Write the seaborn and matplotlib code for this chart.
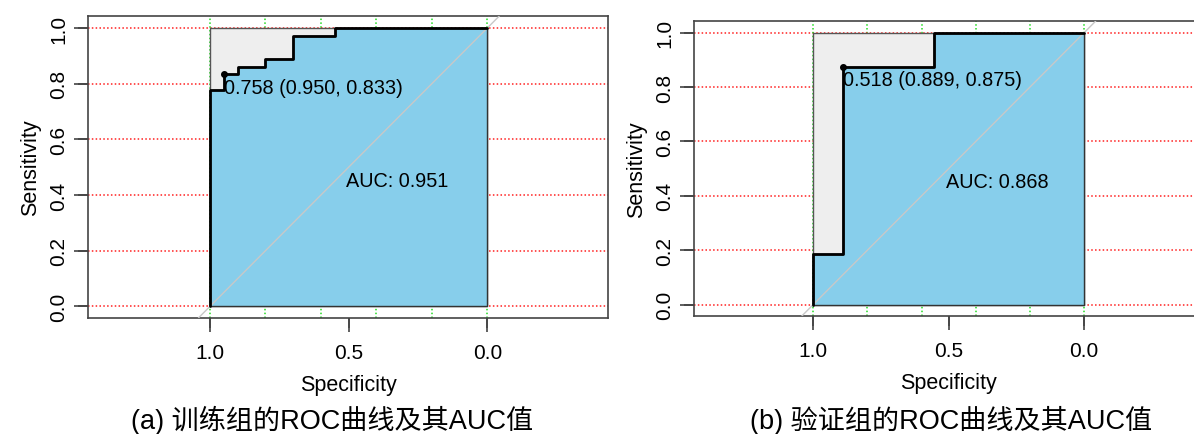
import numpy as np
import pandas as pd
import matplotlib
matplotlib.use("Agg")
import matplotlib.pyplot as plt
import seaborn as sns

# ROC coordinates (specificity, sensitivity) as pROC reports them.
train_spec = [1.0, 1.0, 0.95, 0.95, 0.90, 0.90, 0.80, 0.80, 0.70, 0.70, 0.55, 0.55, 0.0]
train_sens = [0.0, 0.778, 0.778, 0.833, 0.833, 0.861, 0.861, 0.889, 0.889, 0.972, 0.972, 1.0, 1.0]
train_auc = 0.951
train_best = (0.758, 0.950, 0.833)   # threshold, specificity, sensitivity

valid_spec = [1.0, 1.0, 0.889, 0.889, 0.556, 0.556, 0.0]
valid_sens = [0.0, 0.1875, 0.1875, 0.875, 0.875, 1.0, 1.0]
valid_auc = 0.868
valid_best = (0.518, 0.889, 0.875)

x_ticks = [1.0, 0.5, 0.0]
y_ticks = [0.0, 0.2, 0.4, 0.6, 0.8, 1.0]
captions = ["(a) 训练组的ROC曲线及其AUC值", "(b) 验证组的ROC曲线及其AUC值"]

sns.set_theme(style="ticks")
plt.rcParams["font.family"] = ["Liberation Sans", "Noto Sans CJK SC", "DejaVu Sans"]
plt.rcParams["text.color"] = "black"
plt.rcParams["axes.labelcolor"] = "black"

fig = plt.figure(figsize=(11.94, 4.35), dpi=100)
ax1 = fig.add_axes([88 / 1194, 116 / 435, 520 / 1194, 302 / 435])
ax2 = fig.add_axes([694 / 1194, 118 / 435, 508 / 1194, 295 / 435])


def draw_roc(ax, spec, sens, auc, best):
    df = pd.DataFrame({"Specificity": spec, "Sensitivity": sens})
    ax.set_xlim(1.44, -0.435)
    ax.set_ylim(-0.042, 1.043)
    # grid like pROC (drawn under the polygons)
    for g in np.arange(0, 1.01, 0.2):
        ax.axhline(g, color="#ff2020", ls=(0, (1.0, 1.5)), lw=1.1, zorder=0)
        ax.axvline(g, color="#22dd22", ls=(0, (1.0, 1.5)), lw=1.1, zorder=0)
    # max AUC polygon
    ax.fill_between([1, 0], 0, 1, facecolor="#EEEEEE", edgecolor="#555555", lw=1.0, zorder=1)
    # AUC polygon
    ax.fill_between(df["Specificity"], df["Sensitivity"], 0, facecolor="skyblue",
                    edgecolor="#333333", lw=1.0, zorder=2)
    # chance line
    ax.axline((1, 0), (0, 1), color="#c8c8c8", lw=1.0, zorder=3)
    sns.lineplot(data=df, x="Specificity", y="Sensitivity", sort=False, estimator=None,
                 color="black", lw=2.0, ax=ax, zorder=4)
    thr, bsp, bse = best
    ax.plot(bsp, bse, "o", color="black", ms=4, zorder=5)
    ax.text(bsp, bse - 0.012, f"{thr:.3f} ({bsp:.3f}, {bse:.3f})", ha="left", va="top",
            fontsize=14.3, color="black", zorder=6)
    ax.text(0.51, 0.487, f"AUC: {auc:.3f}", ha="left", va="top", fontsize=14.3,
            color="black", zorder=6)

    ax.set_xlabel("Specificity", fontsize=15.5, labelpad=9)
    ax.set_ylabel("Sensitivity", fontsize=15.5, labelpad=6)
    for s in ax.spines.values():
        s.set_visible(True)
        s.set_linewidth(1.2)
        s.set_edgecolor("#444444")

    ax.set_xticks(x_ticks)
    ax.set_xticklabels([f"{v:.1f}" for v in x_ticks])
    ax.set_yticks(y_ticks)
    ax.set_yticklabels([f"{v:.1f}" for v in y_ticks], rotation=90, va="center")
    ax.tick_params(axis="both", direction="out", length=10, width=1.2, color="#444444",
                   labelsize=15, labelcolor="black")
    ax.tick_params(axis="x", pad=8)
    ax.tick_params(axis="y", pad=4)

    # R-style outward tick marks, drawn as plain lines so they always show
    bb = ax.get_window_extent()
    h = 10 / bb.height
    w = 10 / bb.width
    for v in x_ticks:
        ax.plot([v, v], [0, -h], transform=ax.get_xaxis_transform(), color="#444444",
                lw=1.2, clip_on=False, solid_capstyle="butt", zorder=8)
    for v in y_ticks:
        ax.plot([0, -w], [v, v], transform=ax.get_yaxis_transform(), color="#444444",
                lw=1.2, clip_on=False, solid_capstyle="butt", zorder=8)
    ax.set_xlim(1.44, -0.435)
    ax.set_ylim(-0.042, 1.043)


draw_roc(ax1, train_spec, train_sens, train_auc, train_best)
draw_roc(ax2, valid_spec, valid_sens, valid_auc, valid_best)

fig.text(332 / 1194, 1 - 420 / 435, captions[0], ha="center", va="center", fontsize=19.5)
fig.text(951 / 1194, 1 - 420 / 435, captions[1], ha="center", va="center", fontsize=19.5)

fig.savefig("out.png", dpi=100)
